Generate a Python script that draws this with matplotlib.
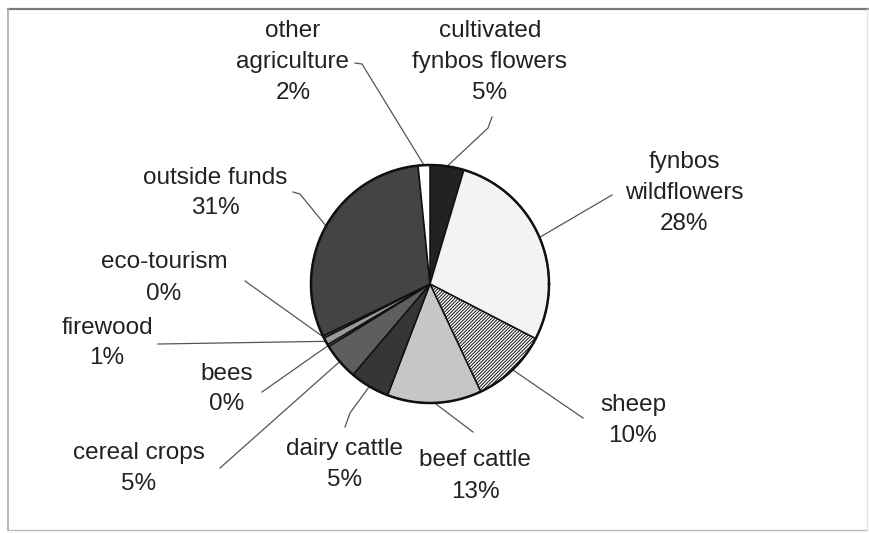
import numpy as np
import matplotlib
matplotlib.use("Agg")
import matplotlib.pyplot as plt

plt.rcParams['font.family'] = ['Liberation Sans', 'DejaVu Sans']
plt.rcParams['hatch.linewidth'] = 0.7

# income sources, clockwise from 12 o'clock
labels = ["cultivated\nfynbos flowers", "fynbos\nwildflowers", "sheep", "beef cattle",
          "dairy cattle", "cereal crops", "bees", "firewood", "eco-tourism",
          "outside funds", "other\nagriculture"]
values = [4.6, 28.0, 10.4, 12.8, 5.4, 5.0, 0.3, 1.0, 0.3, 30.6, 1.6]
colors = ["#222222", "#f3f3f3", "#ffffff", "#c6c6c6", "#363636", "#5e5e5e",
          "#7a7a7a", "#9a9a9a", "#6a6a6a", "#444444", "#ffffff"]
hatches = [None, None, "//////////", None, None, None, None, None, None, None, None]

# label block centres and leader start points, in pixels from top-left
label_xy = [(490, 62), (684, 193), (633, 420), (475, 476), (345, 464), (139, 469),
            (227, 389), (107, 343), (164, 278), (215, 193), (293, 62)]
leader_start = [[(492, 117), (488, 128)], [(612, 195)], [(583, 418)], [(473, 432)],
                [(345, 427), (350, 413)], [(220, 468)], [(262, 392)], [(158, 344)],
                [(245, 281)], [(293, 192), (300, 194)], [(355, 63), (362, 64)]]

W, H = 870, 533
cx, cy, r = 430, 284, 119
fs = 17.5
pitch = 31


def Y(y):
    return H - y


fig = plt.figure(figsize=(W / 100, H / 100), dpi=100)
ax = fig.add_axes([0, 0, 1, 1])

wedges, _ = ax.pie(values, colors=colors, startangle=90, counterclock=False,
                   center=(cx, Y(cy)), radius=r, normalize=True,
                   wedgeprops=dict(edgecolor="#111111", linewidth=1.1))
for w, h in zip(wedges, hatches):
    if h:
        w.set_hatch(h)

# heavier outer rim
t = np.linspace(0, 2 * np.pi, 400)
ax.plot(cx + r * np.cos(t), Y(cy) + r * np.sin(t), color="#111111", lw=1.8)

ax.set_xlim(0, W)
ax.set_ylim(0, H)
ax.set_axis_off()

# frame around chart area
ax.plot([8, 870], [Y(9), Y(9)], color="#7a7a7a", lw=1.6)
ax.plot([8, 8], [Y(9), Y(530)], color="#a8a8a8", lw=1.2)
ax.plot([8, 867], [Y(530), Y(530)], color="#bdbdbd", lw=1.0)
ax.plot([867, 867], [Y(9), Y(530)], color="#e2e2e2", lw=1.0)

for w, lab, v, (lx, ly), starts in zip(wedges, labels, values, label_xy, leader_start):
    mid = np.deg2rad((w.theta1 + w.theta2) / 2)
    ex = cx + r * np.cos(mid)
    ey = Y(cy) + r * np.sin(mid)
    xs = [p[0] for p in starts] + [ex]
    ys = [Y(p[1]) for p in starts] + [ey]
    ax.plot(xs, ys, color="#555555", lw=0.9, zorder=0.5)

    lines = lab.split("\n") + [f"{v:.0f}%"]
    n = len(lines)
    for i, tx in enumerate(lines):
        ty = ly + (i - (n - 1) / 2) * pitch
        ax.text(lx, Y(ty), tx, ha="center", va="center", fontsize=fs, color="#222222")

fig.savefig("out.png", dpi=100)
